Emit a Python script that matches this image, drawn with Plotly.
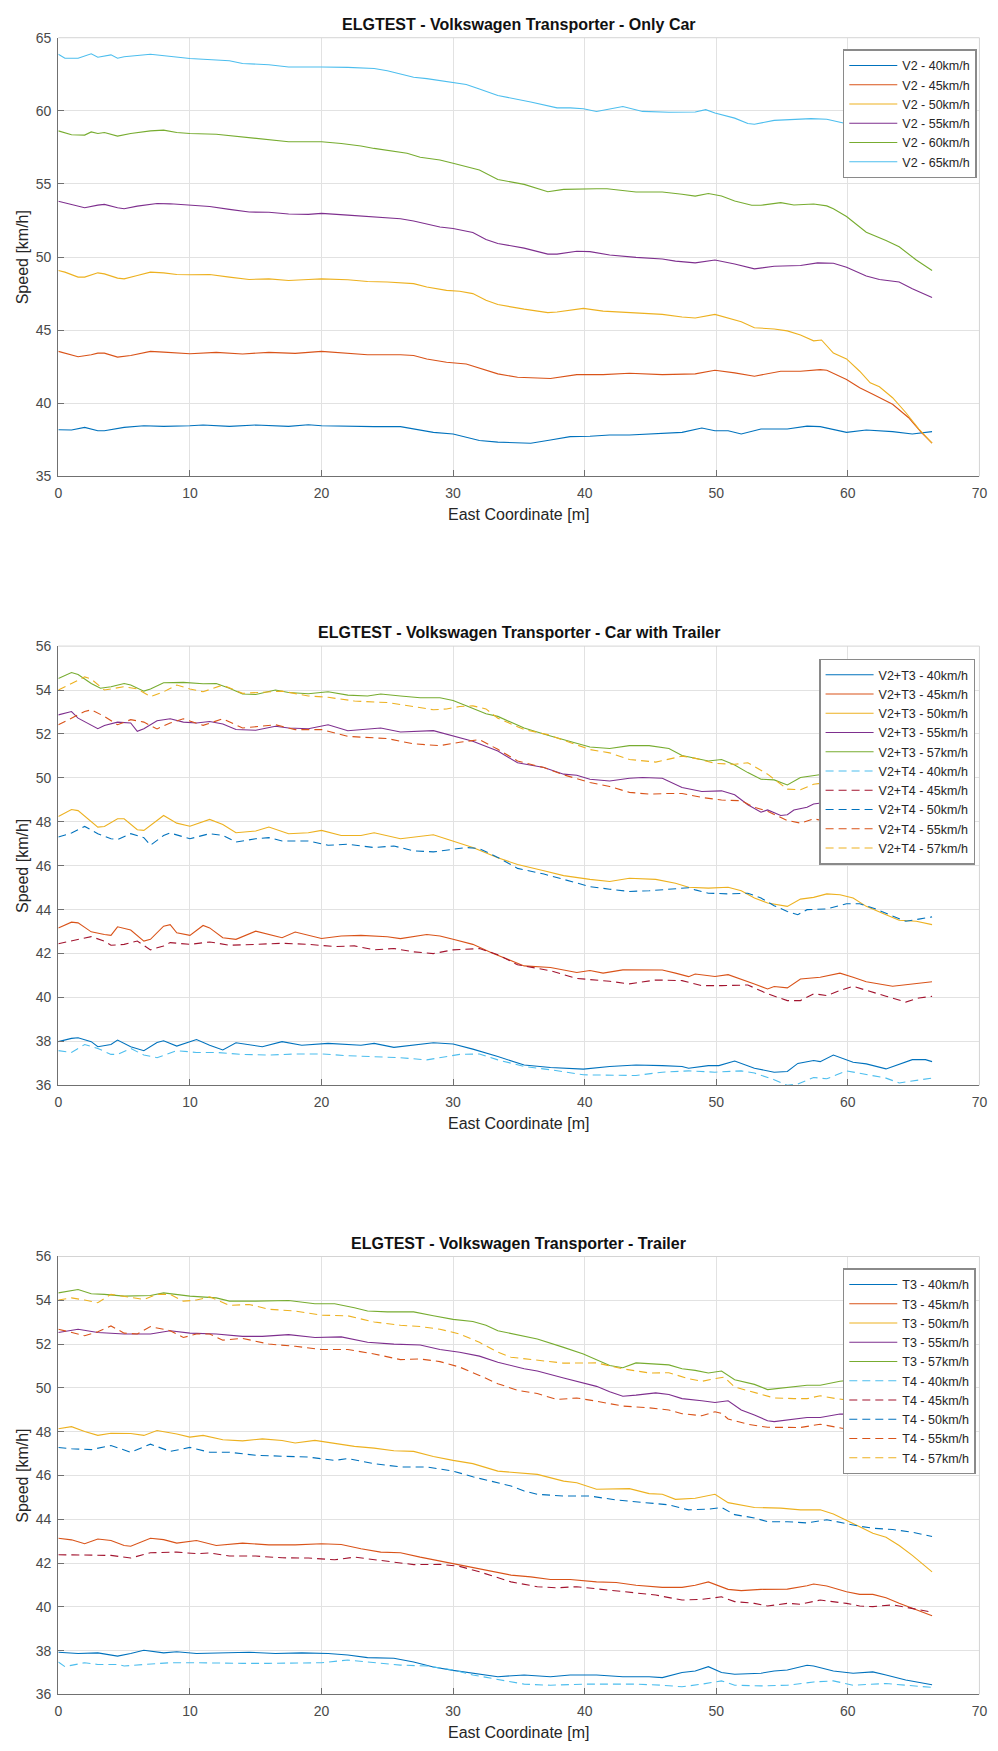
import plotly.graph_objects as go

# ---------------- DATA ----------------
# Panel 1: Only Car
v2_40_x = [0,1,2,3,3.5,5,6.5,8,10,11,13,15,17.5,19,20,22,24,26,27,28.5,30,31,32,33.4,35.9,37.4,38.9,40.4,41.9,43.4,45.4,47.4,48.9,49.9,50.9,51.9,53.4,55.4,56.9,57.9,59.9,61.4,63.4,64.9,66.4]
v2_40_y = [38.19,38.17,38.35,38.12,38.12,38.35,38.46,38.42,38.46,38.51,38.42,38.51,38.42,38.53,38.46,38.42,38.40,38.40,38.24,38.01,37.90,37.67,37.45,37.34,37.27,37.49,37.72,37.74,37.83,37.83,37.90,38.01,38.31,38.12,38.12,37.90,38.24,38.24,38.44,38.40,38.01,38.17,38.06,37.90,38.06]

v2_45_x = [0,1.5,2.5,3,3.5,4.5,5.5,7,8,10,12,14,16,18,20,22,23.5,26,27,28,29.5,31,32,33.4,34.9,36.4,37.4,39.4,41.4,43.4,45.9,48.4,49.9,51.4,52.9,54.9,56.4,57.9,58.4,59.9,60.9,61.9,63.4,64.6,65.6,66.4]
v2_45_y = [43.55,43.18,43.32,43.43,43.43,43.16,43.27,43.55,43.50,43.39,43.48,43.37,43.48,43.41,43.55,43.43,43.32,43.32,43.27,43.03,42.80,42.69,42.42,42.01,41.78,41.74,41.69,41.96,41.96,42.05,41.96,42.01,42.26,42.08,41.85,42.19,42.19,42.30,42.26,41.63,41.06,40.61,39.93,39.03,38.00,37.27]

v2_50_x = [0,0.5,1.5,2,3,3.5,4.5,5,6,7,8,9,10,11.5,13,14.5,16,17.5,19,20,22,23.5,25,27,28,29.5,30.5,31.5,32.5,33.4,35.4,37.2,37.9,39.9,41.4,43.9,45.9,47.4,48.4,49.9,50.9,51.9,52.9,54.4,55.4,56.4,57.4,58.0,58.9,59.9,60.9,61.7,62.4,63.4,64.4,65.4,66.4]
v2_50_y = [49.08,48.97,48.63,48.63,48.92,48.85,48.56,48.51,48.74,48.97,48.92,48.81,48.79,48.81,48.63,48.47,48.51,48.40,48.47,48.51,48.45,48.33,48.29,48.18,47.95,47.72,47.66,47.50,47.05,46.75,46.44,46.20,46.24,46.49,46.30,46.20,46.08,45.90,45.83,46.08,45.85,45.58,45.17,45.08,44.95,44.67,44.27,44.33,43.43,43.03,42.19,41.40,41.13,40.38,39.37,38.24,37.27]

v2_55_x = [0,0.5,2,3,3.5,4.5,5,6,7.5,8.5,10,11.5,13,14.5,16,17.5,19,20,22,24,26,27,28,29,30,31.5,32.5,33.4,35.4,37.2,37.9,39.4,40.4,41.9,43.9,45.9,46.9,48.4,49.9,51.4,52.9,54.4,56.4,57.7,58.9,59.9,61.4,62.4,63.9,64.9,66.4]
v2_55_y = [53.82,53.70,53.37,53.55,53.60,53.37,53.30,53.48,53.66,53.64,53.53,53.46,53.26,53.08,53.06,52.94,52.92,52.99,52.87,52.74,52.62,52.47,52.24,52.06,51.95,51.68,51.20,50.93,50.61,50.20,50.20,50.40,50.37,50.14,49.98,49.87,49.72,49.60,49.80,49.53,49.19,49.37,49.42,49.60,49.58,49.30,48.70,48.47,48.29,47.84,47.23]

v2_60_x = [0,1,2,2.5,3,3.5,4.5,5.5,7,8,9,10,12,13.5,15,16,17.5,19,20,21.5,23,24,25,26.5,27.5,29,30,31,32,33.4,35.4,37.2,38.4,40.9,41.7,43.9,45.9,47.4,48.4,49.4,50.4,51.4,52.7,53.4,54.9,55.9,57.4,58.4,58.9,59.9,61.4,62.9,63.9,65.2,66.4]
v2_60_y = [58.63,58.36,58.34,58.56,58.45,58.52,58.27,58.45,58.63,58.68,58.52,58.45,58.40,58.27,58.11,58.07,57.89,57.89,57.89,57.77,57.60,57.43,57.28,57.10,56.82,56.64,56.42,56.20,55.96,55.30,54.97,54.47,54.63,54.67,54.67,54.45,54.45,54.29,54.17,54.35,54.17,53.83,53.54,53.54,53.72,53.56,53.63,53.50,53.30,52.77,51.70,51.13,50.70,49.80,49.08]

v2_65_x = [0,0.5,1.5,2.5,3,4,4.5,5,7,8.5,10,11,13,14,16,17.5,19,20,22,24,25,26,27,28,30,31,32,33.4,35.9,37.9,38.9,39.9,40.9,41.9,42.9,44.4,46.4,48.4,49.2,49.9,51.4,52.4,52.9,54.4,55.9,57.2,58.4,59.4,60.5,62,63.5,65,66.4]
v2_65_y = [63.87,63.60,63.60,63.90,63.67,63.83,63.60,63.70,63.87,63.70,63.58,63.53,63.42,63.24,63.15,63.00,62.97,63.00,62.97,62.90,62.74,62.50,62.30,62.20,61.95,61.80,61.50,61.05,60.60,60.20,60.20,60.14,59.96,60.14,60.30,59.96,59.90,59.92,60.08,59.85,59.50,59.13,59.08,59.35,59.40,59.47,59.42,59.20,59.0,58.7,58.4,58.0,57.6]

# Panel 2: Car with Trailer
ct3_40_x = [0,1,1.5,2.5,3,4,4.5,5.5,6.5,7.5,8,9,10.5,11.5,12.5,13.5,15.5,17,18.5,20.5,23,24,25.5,28.5,30,31.5,33.4,35.4,37.4,39.9,41.9,43.9,45.9,47.4,47.9,49.4,50.2,51.4,52.9,54.4,55.4,56.2,57.4,57.9,58.9,60.4,61.4,62.9,64.9,65.9,66.4]
ct3_40_y = [37.99,38.14,38.17,37.99,37.76,37.86,38.06,37.76,37.58,37.95,38.03,37.79,38.09,37.83,37.61,37.94,37.76,37.99,37.83,37.91,37.83,37.91,37.73,37.94,37.88,37.65,37.31,36.93,36.81,36.74,36.86,36.93,36.90,36.86,36.78,36.90,36.90,37.11,36.78,36.60,36.63,37.00,37.13,37.08,37.38,37.05,36.98,36.75,37.17,37.17,37.08]

ct3_45_x = [0,1,1.5,2.5,3.5,4,4.5,5.5,6.5,7,8,8.5,9,10,11,11.5,12.5,13.5,15,16,17,18,19,20,21.5,23,25,26,28,29,30,31.5,33,35.4,37.4,39.4,40.4,41.4,42.9,44.9,45.9,46.9,47.9,48.4,49.9,50.9,51.9,52.9,53.9,54.4,55.4,56.4,57.9,59.4,60.4,61.4,63.4,64.9,66.4]
ct3_45_y = [43.17,43.43,43.40,42.99,42.87,42.83,43.22,43.07,42.57,42.65,43.25,43.32,42.95,42.83,43.28,43.17,42.72,42.65,43.02,42.87,42.72,42.98,42.83,42.69,42.80,42.83,42.77,42.68,42.87,42.80,42.65,42.42,42.02,41.44,41.37,41.14,41.23,41.11,41.26,41.26,41.25,41.11,40.95,41.07,40.96,41.04,40.84,40.62,40.39,40.50,40.44,40.84,40.92,41.11,40.92,40.72,40.51,40.62,40.72]

ct3_50_x = [0,1,1.5,3,3.5,4.5,5,6,6.5,8,9,10,11.5,12.5,13.5,15,16,17.5,19,20,21.5,23,24,26,28.5,30,31.5,33.4,34.9,36.9,38.4,40.4,41.9,43.4,45.4,46.9,47.9,49.4,50.9,51.9,52.9,53.9,55.4,56.4,57.4,58.4,59.4,60.4,61.4,62.9,63.9,65.2,66.4]
ct3_50_y = [48.24,48.56,48.51,47.76,47.79,48.14,48.14,47.64,47.61,48.29,47.94,47.80,48.11,47.88,47.50,47.58,47.76,47.46,47.50,47.61,47.38,47.38,47.50,47.23,47.41,47.13,46.83,46.36,46.06,45.77,45.55,45.38,45.28,45.43,45.38,45.20,45.02,44.98,45.02,44.86,44.53,44.30,44.15,44.48,44.56,44.72,44.68,44.53,44.15,43.77,43.52,43.47,43.32]

ct3_55_x = [0,1,1.5,2.5,3,3.5,4.5,5.5,6,6.5,7.5,8.5,9.5,10.5,11.5,12.5,13.5,15,16.5,17.5,19,20.5,22,24.5,26,28.5,30,31.5,33.4,34.9,36.9,38.4,39.4,40.4,41.9,43.4,44.4,45.9,47.4,48.9,50.4,51.4,52.4,53.4,53.9,54.9,55.4,55.9,56.9,57.4,58.5,60,62,64,66.4]
ct3_55_y = [52.87,53.02,52.72,52.42,52.24,52.39,52.54,52.50,52.12,52.24,52.60,52.69,52.54,52.50,52.57,52.45,52.20,52.17,52.35,52.27,52.24,52.42,52.15,52.27,52.09,52.15,51.92,51.67,51.22,50.69,50.47,50.17,50.12,49.94,49.86,49.98,50.02,49.98,49.56,49.38,49.41,49.23,48.78,48.44,48.54,48.29,48.32,48.54,48.66,48.81,48.9,48.6,48.0,47.6,47.3]

ct3_57_x = [0,1,1.5,2.5,3.2,4,5,5.5,6.5,7,8,9.5,11,12,13,14,15,16.5,17.5,19,20.5,22,23.5,24.5,26,27.5,29,30,31,32.5,33.4,35.4,37.2,38.9,40.4,41.9,43.4,44.9,46.4,47.4,49.4,50.4,51.4,52.4,53.4,54.4,55.4,56.4,57.4,58.5,60,62,64,66.4]
ct3_57_y = [54.53,54.80,54.71,54.30,54.08,54.15,54.30,54.23,53.95,54.05,54.33,54.35,54.29,54.30,54.08,53.82,53.80,54.00,53.89,53.83,53.92,53.77,53.73,53.82,53.73,53.65,53.65,53.52,53.28,52.92,52.80,52.27,51.94,51.64,51.41,51.34,51.47,51.47,51.34,51.02,50.77,50.84,50.59,50.24,49.94,49.91,49.68,50.02,50.09,50.2,50.0,49.5,49.0,48.5]

ct4_40_x = [0,1,2,3,4,4.5,5.5,6.5,7.5,9,10.5,12,14,16,18,20,22,24,26,28,30.5,32,33.4,35.4,37.4,39.9,41.9,43.9,45.9,47.9,49.9,51.9,52.9,54.4,55.4,56.2,57.4,58.4,59.9,61.4,62.9,63.9,64.9,66.4]
ct4_40_y = [37.58,37.50,37.86,37.68,37.41,37.41,37.68,37.38,37.26,37.58,37.50,37.50,37.41,37.38,37.43,37.43,37.35,37.31,37.26,37.16,37.41,37.43,37.16,36.86,36.71,36.48,36.45,36.45,36.60,36.66,36.60,36.66,36.56,36.26,36.00,36.06,36.36,36.30,36.66,36.51,36.33,36.11,36.21,36.33]

ct4_45_x = [0,1.5,2.5,3.5,4,5,6,7,8,8.5,10,11.5,13,15,17,19,21,22.5,24,25.5,27,28.5,30,32,33.4,34.9,37.4,39.4,41.9,43.4,45.4,47.4,48.9,50.4,52.4,53.9,55.4,56.4,57.4,58.4,59.4,60.4,61.4,62.9,64.4,65.4,66.4]
ct4_45_y = [42.45,42.65,42.77,42.57,42.38,42.42,42.57,42.17,42.35,42.50,42.42,42.53,42.38,42.42,42.47,42.42,42.32,42.35,42.17,42.23,42.08,42.00,42.17,42.23,41.95,41.49,41.22,40.87,40.74,40.62,40.80,40.77,40.54,40.54,40.57,40.17,39.86,39.86,40.17,40.09,40.32,40.51,40.32,40.06,39.79,39.98,40.05]

ct4_50_x = [0,1,2,3,4,4.5,5.5,6.5,7,8,8.5,10,11.5,12.5,13.5,15,16,17,19,20.5,22,24,25.5,27,28.5,30,31,32,33.4,34.9,36.9,38.4,40.4,41.9,43.4,44.9,46.4,47.9,48.4,49.4,50.9,52.4,53.4,54.4,55.4,56.2,56.9,58.4,59.9,60.9,61.9,63.4,64.4,65.4,66.4]
ct4_50_y = [47.31,47.49,47.79,47.46,47.23,47.19,47.46,47.28,46.93,47.38,47.49,47.23,47.46,47.38,47.08,47.23,47.28,47.13,47.13,46.93,46.98,46.83,46.90,46.68,46.63,46.74,46.83,46.78,46.38,45.88,45.62,45.38,45.05,44.93,44.83,44.86,44.93,45.00,44.90,44.75,44.72,44.75,44.53,44.18,43.92,43.77,44.00,44.03,44.27,44.27,44.08,43.70,43.47,43.57,43.67]

ct4_55_x = [0,1,2,2.5,3.5,4.5,5.5,6.5,7.5,8.5,9.5,11,12.5,14,16.5,18,20,22,25,27,29,30.5,32,33.4,34.9,36.9,38.4,40.4,41.9,43.4,44.9,46.4,47.4,48.9,50.4,51.9,52.9,53.9,55.4,56.4,57.4,58.5,60,62,64,66.4]
ct4_55_y = [52.42,52.72,53.02,53.10,52.80,52.42,52.65,52.54,52.23,52.50,52.69,52.39,52.69,52.27,52.42,52.20,52.20,51.89,51.79,51.55,51.47,51.62,51.74,51.30,50.77,50.47,50.14,49.79,49.61,49.34,49.26,49.29,49.29,49.11,48.99,48.96,48.66,48.48,48.06,47.94,48.14,48.0,47.9,47.6,47.4,47.3]

ct4_57_x = [0,1,2,2.5,3.5,5,6,7,8,9,10,11,12.5,14,15.5,17,19,20.5,22.5,25,27,28.5,29.5,30.5,31.5,32.5,33.4,35.4,37.2,38.9,40.4,41.9,43.4,45.4,47.4,48.4,49.9,51.4,52.4,53.9,55.4,56.4,57.4,58.5,60,62,64,66.4]
ct4_57_y = [54.00,54.30,54.60,54.50,54.00,54.15,54.05,53.70,53.92,54.23,54.05,53.92,54.23,53.85,53.89,53.95,53.73,53.67,53.50,53.43,53.25,53.10,53.14,53.25,53.28,53.14,52.72,52.20,51.97,51.59,51.29,51.14,50.84,50.72,50.99,50.89,50.66,50.62,50.69,50.17,49.49,49.46,49.71,49.8,49.5,49.0,48.5,48.0]

# Panel 3: Trailer
t3_40_x = [0,1.5,3,4.5,5.5,6.5,8,9,10.5,12.5,14.5,16.5,18.5,20.5,22,23.5,25.5,27,28.5,30,31.5,33.4,35.4,37.4,38.9,40.9,42.9,44.9,45.9,47.4,48.4,49.4,50.4,51.4,53.4,54.4,55.4,56.9,57.4,58.9,60.4,61.9,62.9,64.4,66.4]
t3_40_y = [37.93,37.87,37.90,37.75,37.87,38.02,37.90,37.95,37.87,37.90,37.93,37.87,37.90,37.87,37.80,37.68,37.65,37.48,37.25,37.10,36.97,36.81,36.89,36.81,36.89,36.89,36.81,36.81,36.77,37.00,37.07,37.27,37.00,36.92,36.97,37.07,37.12,37.33,37.30,37.07,36.97,37.03,36.89,36.66,36.44]

t3_45_x = [0,1,2,3,4,5,5.5,7,8,9,10.5,12,14,16,18,20,21.5,23,24.5,26,27.5,29,30.5,32,33.4,34.4,35.9,37.4,38.9,40.9,42.4,43.9,45.9,47.4,48.4,49.4,50.9,51.9,53.4,55.4,56.9,57.4,58.4,59.9,60.9,61.9,62.9,63.9,64.9,66.4]
t3_45_y = [43.13,43.06,42.88,43.10,43.03,42.80,42.77,43.13,43.07,42.91,43.03,42.80,42.91,42.83,42.83,42.88,42.85,42.65,42.50,42.47,42.27,42.09,41.90,41.75,41.55,41.45,41.37,41.25,41.25,41.14,41.11,40.99,40.89,40.89,40.99,41.14,40.80,40.74,40.80,40.81,40.96,41.04,40.95,40.69,40.57,40.57,40.42,40.16,39.94,39.59]

t3_50_x = [0,1,2,3,4,5.5,6.5,7.5,9,10,11,12.5,14,15.5,17,18,19.5,21,22.5,24,25.5,27,28.5,30,31.5,33.4,36.4,38.4,39.4,40.9,42.4,43.4,44.9,45.9,46.9,48.4,49.9,50.9,52.9,54.9,56.4,57.9,58.9,59.9,60.9,61.9,62.9,63.9,64.9,66.4]
t3_50_y = [48.13,48.23,48.01,47.83,47.93,47.92,47.83,48.05,47.89,47.75,47.83,47.63,47.58,47.67,47.60,47.48,47.60,47.48,47.33,47.25,47.13,47.10,46.87,46.69,46.54,46.20,46.05,45.74,45.67,45.37,45.37,45.40,45.17,45.14,44.91,44.96,45.14,44.76,44.54,44.51,44.43,44.43,44.24,43.96,43.66,43.36,43.18,42.80,42.35,41.60]

t3_55_x = [0,1.5,3,5,7,8.5,10,12,14,15.5,17.5,19.5,21.5,23.5,25.5,27.5,29,30.5,32,33.4,35.4,36.4,38.4,39.9,40.9,41.9,42.9,43.9,45.4,46.4,47.4,48.9,49.9,50.9,51.9,52.9,53.9,54.4,55.9,56.9,57.9,59.4,61,63,66.4]
t3_55_y = [52.53,52.68,52.53,52.46,52.46,52.61,52.50,52.46,52.35,52.35,52.43,52.30,52.33,52.08,52.00,51.96,51.75,51.63,51.45,51.17,50.87,50.77,50.45,50.24,50.07,49.82,49.62,49.67,49.77,49.70,49.51,49.41,49.33,49.41,48.99,48.76,48.50,48.46,48.58,48.65,48.65,48.81,48.8,48.6,48.2]

t3_57_x = [0,1.5,2.5,3.5,5,7,8,10,12,13,15,17.5,19.5,21,22.5,23.5,25,27,28.5,30,31.5,32.5,33.4,36.4,38.4,39.9,41.9,42.9,43.9,45.4,46.4,47.4,48.4,49.4,50.4,51.4,52.9,53.9,55.4,56.9,57.9,58.9,59.4,61,63,64.5,66.4]
t3_57_y = [54.34,54.49,54.30,54.27,54.19,54.22,54.34,54.19,54.11,53.96,53.96,53.99,53.84,53.84,53.66,53.51,53.47,53.47,53.29,53.13,53.03,52.86,52.61,52.23,51.85,51.55,51.02,50.92,51.14,51.10,51.05,50.87,50.80,50.68,50.77,50.37,50.16,49.92,50.01,50.12,50.12,50.24,50.30,50.4,50.3,50.0,49.6]

t4_40_x = [0,0.5,2,3,4.5,5,6.5,8.5,10,12,14,16,18,20,22,24,26,28,30,31.5,33.4,35.4,37.4,39.9,41.9,43.9,45.9,47.4,48.9,50.4,51.4,53.4,55.4,57.4,58.9,60.4,62.9,64.9,66.4]
t4_40_y = [37.48,37.27,37.45,37.37,37.37,37.30,37.37,37.45,37.45,37.42,37.42,37.42,37.45,37.45,37.57,37.45,37.34,37.30,37.12,36.89,36.70,36.47,36.42,36.47,36.47,36.47,36.42,36.35,36.47,36.62,36.42,36.39,36.42,36.57,36.62,36.42,36.50,36.39,36.32]

t4_45_x = [0,2,4,5.5,7,9,10.5,11.5,13,15,17,19,21,22.5,25,27,29,30.5,32,33.4,34.4,36.4,37.9,39.4,41.4,43.4,45.4,47.4,48.9,50.4,51.4,52.9,53.9,55.4,56.4,57.9,59.9,60.9,61.9,63.4,64.9,66.4]
t4_45_y = [42.38,42.35,42.35,42.23,42.47,42.50,42.43,42.46,42.32,42.32,42.24,42.23,42.15,42.27,42.09,41.93,41.94,41.85,41.60,41.32,41.14,40.92,40.87,40.92,40.80,40.66,40.54,40.31,40.34,40.46,40.24,40.16,40.04,40.16,40.12,40.31,40.16,40.04,40.01,40.09,39.94,39.76]

t4_50_x = [0,1,2.5,4,5.5,7,8.5,10,11.5,13,15,17,19,21,22,24,26,28,30,31.5,33.4,34.4,35.4,36.4,38.4,40.4,42.4,44.4,46.4,47.9,49.4,50.4,51.4,52.9,53.9,55.4,56.9,58.4,59.9,60.9,61.9,63.4,64.9,66.4]
t4_50_y = [47.28,47.22,47.18,47.37,47.06,47.43,47.10,47.28,47.06,47.06,46.92,46.87,46.84,46.69,46.77,46.54,46.39,46.39,46.20,45.94,45.67,45.52,45.29,45.14,45.06,45.06,44.88,44.76,44.66,44.43,44.46,44.54,44.21,44.06,43.89,43.89,43.83,43.98,43.78,43.68,43.59,43.53,43.41,43.21]

t4_55_x = [0,1,2,3,4,5,6,7,8.5,9.5,10.5,11.5,12.5,14,16,18,20,22,24,26,27.5,29,30.5,32,33.4,34.9,36.4,37.9,39.4,40.9,42.9,44.9,46.4,47.4,48.9,49.9,50.4,50.9,52.4,53.9,55.4,56.4,57.9,59.4,61,63,66.4]
t4_55_y = [52.68,52.53,52.38,52.56,52.83,52.50,52.46,52.80,52.61,52.30,52.46,52.46,52.18,52.26,52.00,51.90,51.75,51.75,51.55,51.29,51.32,51.20,50.95,50.57,50.19,49.89,49.74,49.47,49.54,49.39,49.17,49.09,48.99,48.82,48.73,48.91,48.84,48.58,48.34,48.20,48.20,48.19,48.34,48.16,48.0,47.8,47.5]

t4_57_x = [0,1,2,3,4,5,6.5,7.5,8.5,9.5,10.5,11.5,13,14.5,16,18,20,22,24,26,27.5,29,30.5,32,33.4,34.4,36.4,38.4,40.9,42.9,44.9,46.4,47.9,48.9,49.9,50.6,51.4,52.9,54.4,55.9,56.9,57.9,59.1,60.5,62,64,66.4]
t4_57_y = [54.01,54.11,54.01,53.89,54.27,54.19,54.04,54.27,54.27,53.96,54.01,54.16,53.77,53.81,53.59,53.51,53.32,53.29,53.01,52.86,52.80,52.68,52.46,52.08,51.63,51.40,51.25,51.13,51.14,50.87,50.68,50.69,50.42,50.30,50.42,50.49,50.04,49.79,49.54,49.51,49.51,49.64,49.51,49.4,49.2,48.9,48.6]

titles = ["ELGTEST - Volkswagen Transporter - Only Car",
          "ELGTEST - Volkswagen Transporter - Car with Trailer",
          "ELGTEST - Volkswagen Transporter - Trailer"]
x_ticks = [0, 10, 20, 30, 40, 50, 60, 70]
y_ticks_1 = [35, 40, 45, 50, 55, 60, 65]
y_ticks_23 = [36, 38, 40, 42, 44, 46, 48, 50, 52, 54, 56]

# ---------------- STYLE / LAYOUT ----------------
BLUE, ORANGE, YELLOW, PURPLE, GREEN, CYAN, RED = (
    '#0072BD', '#D95319', '#EDB120', '#7E2F8E', '#77AC30', '#4DBEEE', '#A2142F')
SOLID, DASH = 'solid', '8px,5px'

panels = [
    [("V2 - 40km/h", v2_40_x, v2_40_y, BLUE, SOLID),
     ("V2 - 45km/h", v2_45_x, v2_45_y, ORANGE, SOLID),
     ("V2 - 50km/h", v2_50_x, v2_50_y, YELLOW, SOLID),
     ("V2 - 55km/h", v2_55_x, v2_55_y, PURPLE, SOLID),
     ("V2 - 60km/h", v2_60_x, v2_60_y, GREEN, SOLID),
     ("V2 - 65km/h", v2_65_x, v2_65_y, CYAN, SOLID)],
    [("V2+T3 - 40km/h", ct3_40_x, ct3_40_y, BLUE, SOLID),
     ("V2+T3 - 45km/h", ct3_45_x, ct3_45_y, ORANGE, SOLID),
     ("V2+T3 - 50km/h", ct3_50_x, ct3_50_y, YELLOW, SOLID),
     ("V2+T3 - 55km/h", ct3_55_x, ct3_55_y, PURPLE, SOLID),
     ("V2+T3 - 57km/h", ct3_57_x, ct3_57_y, GREEN, SOLID),
     ("V2+T4 - 40km/h", ct4_40_x, ct4_40_y, CYAN, DASH),
     ("V2+T4 - 45km/h", ct4_45_x, ct4_45_y, RED, DASH),
     ("V2+T4 - 50km/h", ct4_50_x, ct4_50_y, BLUE, DASH),
     ("V2+T4 - 55km/h", ct4_55_x, ct4_55_y, ORANGE, DASH),
     ("V2+T4 - 57km/h", ct4_57_x, ct4_57_y, YELLOW, DASH)],
    [("T3 - 40km/h", t3_40_x, t3_40_y, BLUE, SOLID),
     ("T3 - 45km/h", t3_45_x, t3_45_y, ORANGE, SOLID),
     ("T3 - 50km/h", t3_50_x, t3_50_y, YELLOW, SOLID),
     ("T3 - 55km/h", t3_55_x, t3_55_y, PURPLE, SOLID),
     ("T3 - 57km/h", t3_57_x, t3_57_y, GREEN, SOLID),
     ("T4 - 40km/h", t4_40_x, t4_40_y, CYAN, DASH),
     ("T4 - 45km/h", t4_45_x, t4_45_y, RED, DASH),
     ("T4 - 50km/h", t4_50_x, t4_50_y, BLUE, DASH),
     ("T4 - 55km/h", t4_55_x, t4_55_y, ORANGE, DASH),
     ("T4 - 57km/h", t4_57_x, t4_57_y, YELLOW, DASH)],
]

for p in panels:
    for name, xs, ys, _, _ in p:
        assert len(xs) == len(ys), (name, len(xs), len(ys))

W, H = 998, 1751
LEFT, RIGHT = 55, 987.3
BOXES = [(30, 472.7), (644, 1087.3), (1260, 1702)]
YRANGES = [(35, 65, y_ticks_1), (36, 56, y_ticks_23), (36, 56, y_ticks_23)]
LEGENDS = [(849, 41.7), (825, 656.7), (849, 1272)]
FONT = "Liberation Sans, Arial, Helvetica, sans-serif"

fig = go.Figure()
annotations = []
shapes = []
layout = {}

for i, series in enumerate(panels):
    sfx = '' if i == 0 else str(i + 1)
    top, bot = BOXES[i]
    y0, y1, yt = YRANGES[i]
    for name, xs, ys, color, dash in series:
        fig.add_trace(go.Scatter(
            x=xs, y=ys, mode='lines', name=name,
            line=dict(color=color, width=1.1, dash=dash),
            xaxis='x' + sfx, yaxis='y' + sfx, legend='legend' + sfx))
    common = dict(showgrid=True, gridcolor='#e2e2e2', gridwidth=1,
                  showline=True, linecolor='#707070', linewidth=1.3,
                  ticks='inside', ticklen=6, tickwidth=1, tickcolor='#707070',
                  tickfont=dict(family=FONT, size=14, color='#4a4a4a'),
                  zeroline=False, mirror=False, fixedrange=True)
    layout['xaxis' + sfx] = dict(common, domain=[LEFT / W, RIGHT / W],
                                 anchor='y' + sfx, range=[0, 70],
                                 tickvals=x_ticks, ticklabelstandoff=4)
    layout['yaxis' + sfx] = dict(common, domain=[1 - bot / H, 1 - top / H],
                                 anchor='x' + sfx, range=[y0, y1],
                                 tickvals=yt, ticklabelstandoff=3)
    lx, ly = LEGENDS[i]
    layout['legend' + sfx] = dict(
        x=lx / W, xanchor='left', y=1 - ly / H, yanchor='top',
        bgcolor='white', bordercolor='#8a8a8a', borderwidth=1.5,
        font=dict(family=FONT, size=12.5, color='#262626'),
        tracegroupgap=0, itemwidth=48)
    xr = ('x' if i == 0 else 'x' + sfx) + ' domain'
    yr = ('y' if i == 0 else 'y' + sfx) + ' domain'
    shapes.append(dict(type='line', xref=xr, yref=yr, x0=0, x1=1, y0=1, y1=1,
                       line=dict(color='#d4d4d4', width=1), layer='above'))
    shapes.append(dict(type='line', xref=xr, yref=yr, x0=1, x1=1, y0=0, y1=1,
                       line=dict(color='#d4d4d4', width=1), layer='above'))
    annotations.append(dict(text='<b>' + titles[i] + '</b>', xref='paper', yref='paper',
                            x=(LEFT + RIGHT) / 2 / W, y=1 - (top - 13.5) / H,
                            xanchor='center', yanchor='middle', showarrow=False,
                            font=dict(family=FONT, size=16, color='#111111')))
    annotations.append(dict(text='East Coordinate [m]', xref='paper', yref='paper',
                            x=(LEFT + RIGHT) / 2 / W, y=1 - (bot + 38.5) / H,
                            xanchor='center', yanchor='middle', showarrow=False,
                            font=dict(family=FONT, size=16, color='#262626')))
    annotations.append(dict(text='Speed [km/h]', xref='paper', yref='paper',
                            x=18.5 / W, y=1 - (top + bot) / 2 / H, textangle=-90,
                            xanchor='center', yanchor='middle', showarrow=False,
                            font=dict(family=FONT, size=16, color='#262626')))

fig.update_layout(**layout)
fig.update_layout(width=W, height=H, autosize=False,
                  margin=dict(l=0, r=0, t=0, b=0, pad=0),
                  paper_bgcolor='white', plot_bgcolor='white',
                  font=dict(family=FONT),
                  annotations=annotations, shapes=shapes, showlegend=True)

fig.write_html("out.html")
